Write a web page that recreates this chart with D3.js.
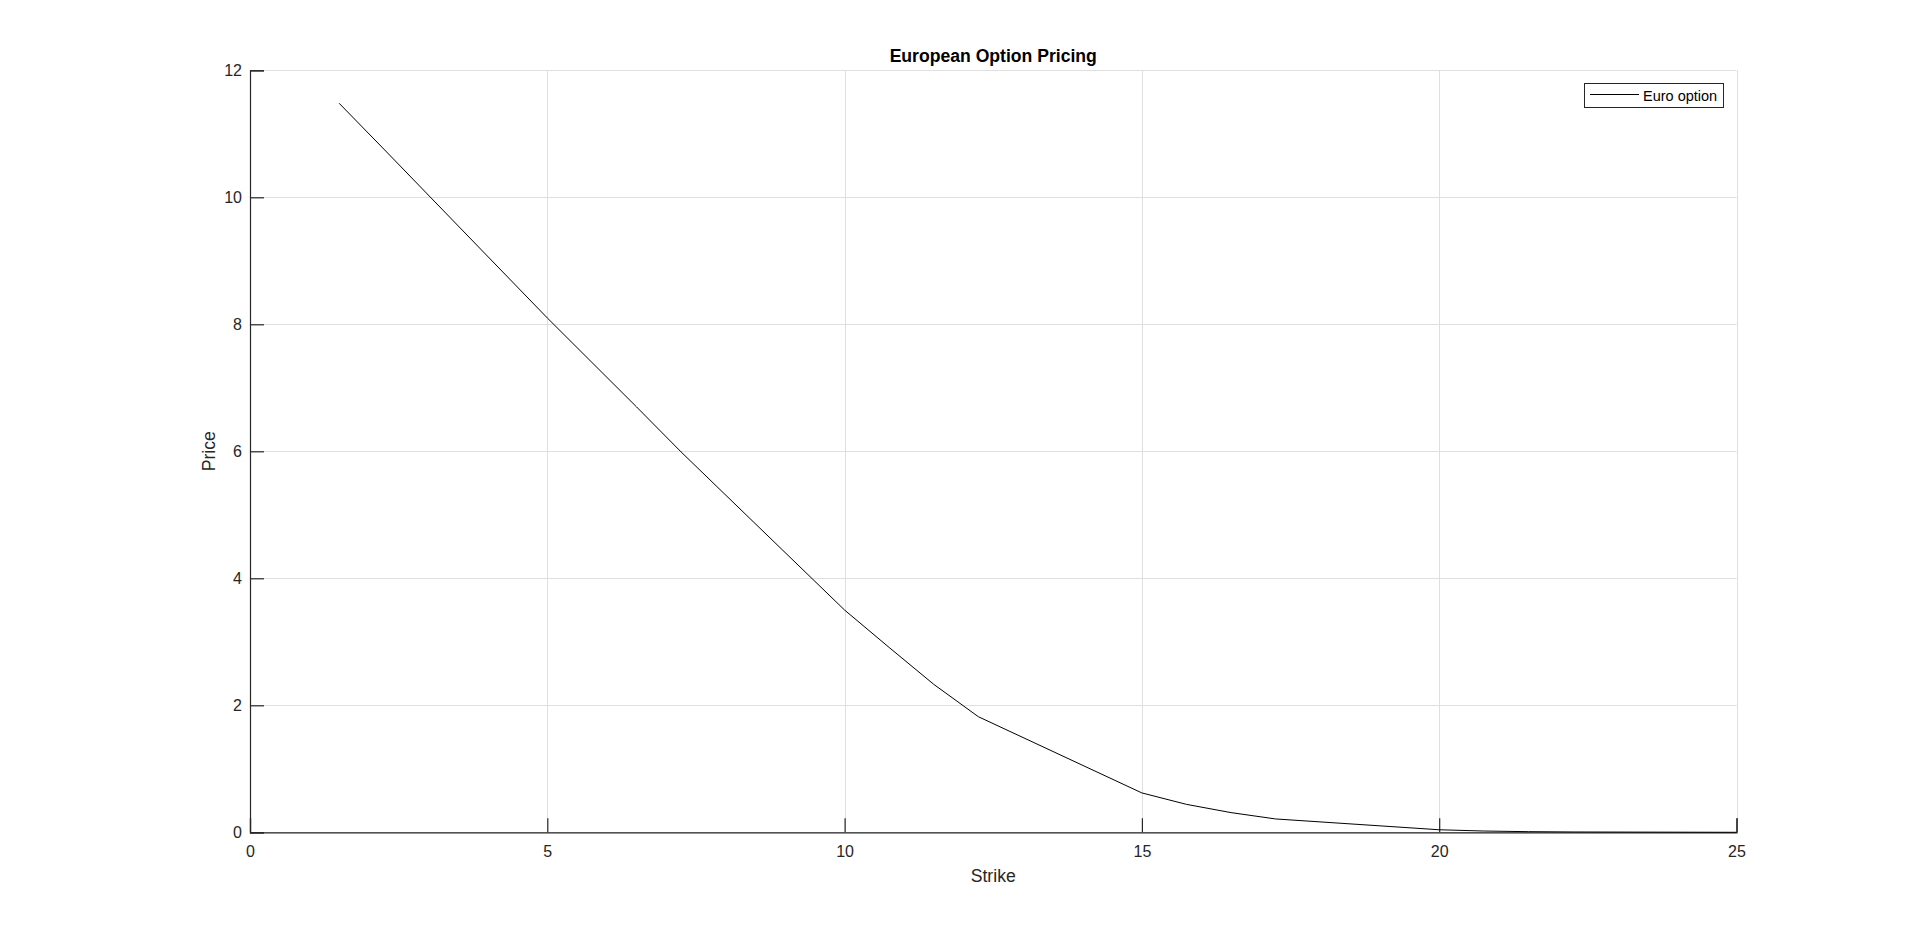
<!DOCTYPE html>
<html>
<head>
<meta charset="utf-8">
<script src="https://cdn.jsdelivr.net/npm/d3@7"></script>
<style>
  html, body { margin: 0; padding: 0; background: #ffffff; }
  svg { display: block; }
  text { font-family: "Liberation Sans", Arial, Helvetica, sans-serif; }
</style>
</head>
<body>
<svg id="chart" width="1920" height="936"></svg>
<script>
// ---- data ----
const strikes = [1.5, 2.25, 5, 5.75, 6.5, 7.25, 10, 10.75, 11.5, 12.25, 15, 15.75, 16.5, 17.25, 20, 20.75, 21.5, 22.25, 25];
const prices  = [11.48, 10.76, 8.10, 7.40, 6.70, 5.99, 3.50, 2.91, 2.33, 1.82, 0.62, 0.44, 0.31, 0.21, 0.04, 0.02, 0.01, 0.005, 0.0];
const xTicks = [0, 5, 10, 15, 20, 25];
const yTicks = [0, 2, 4, 6, 8, 10, 12];
const titleText = "European Option Pricing";
const xLabelText = "Strike";
const yLabelText = "Price";
const seriesName = "Euro option";

// ---- layout ----
const plotLeft = 250, plotRight = 1736.5, plotTop = 70.3, plotBottom = 832.3;
const axisColor = "#262626";
const gridColor = "#dfdfdf";

const svg = d3.select("#chart");
const x = d3.scaleLinear().domain([0, 25]).range([plotLeft, plotRight]);
const y = d3.scaleLinear().domain([0, 12]).range([plotBottom, plotTop]);

// grid
const grid = svg.append("g");
grid.selectAll("line.gx").data(xTicks).enter().append("line")
  .attr("x1", d => Math.round(x(d)) + 0.5).attr("x2", d => Math.round(x(d)) + 0.5)
  .attr("y1", plotTop).attr("y2", plotBottom)
  .attr("stroke", gridColor).attr("stroke-width", 1);
grid.selectAll("line.gy").data(yTicks).enter().append("line")
  .attr("x1", plotLeft).attr("x2", plotRight)
  .attr("y1", d => Math.round(y(d)) + 0.5).attr("y2", d => Math.round(y(d)) + 0.5)
  .attr("stroke", gridColor).attr("stroke-width", 1);

// x axis
const xAxis = d3.axisBottom(x).tickValues(xTicks).tickSize(-14).tickPadding(26).tickFormat(d3.format("d"));
const gx = svg.append("g").attr("transform", `translate(0,${plotBottom})`).call(xAxis);
gx.select(".domain").attr("stroke", axisColor).attr("stroke-width", 1.2);
gx.selectAll(".tick line").attr("stroke", axisColor).attr("stroke-width", 1.2);
gx.selectAll(".tick text").attr("fill", axisColor).attr("font-size", 16)
  .attr("font-family", '"Liberation Sans", Arial, sans-serif').attr("y", 24.4).attr("dy", 0);

// y axis
const yAxis = d3.axisLeft(y).tickValues(yTicks).tickSize(-14).tickPadding(22).tickFormat(d3.format("d"));
const gy = svg.append("g").attr("transform", `translate(${plotLeft},0)`).call(yAxis);
gy.select(".domain").attr("stroke", axisColor).attr("stroke-width", 1.2);
gy.selectAll(".tick line").attr("stroke", axisColor).attr("stroke-width", 1.2);
gy.selectAll(".tick text").attr("fill", axisColor).attr("font-size", 16)
  .attr("font-family", '"Liberation Sans", Arial, sans-serif').attr("x", -8).attr("dy", "0.35em");

// line
const line = d3.line().x(d => x(d[0])).y(d => y(d[1]));
svg.append("path")
  .datum(strikes.map((s, i) => [s, prices[i]]))
  .attr("d", line)
  .attr("fill", "none")
  .attr("stroke", "#000000")
  .attr("stroke-width", 1);

// title
svg.append("text")
  .attr("x", (plotLeft + plotRight) / 2).attr("y", 62)
  .attr("text-anchor", "middle")
  .attr("font-size", 17.6).attr("font-weight", "bold")
  .attr("fill", "#000000")
  .text(titleText);

// axis labels
svg.append("text")
  .attr("x", (plotLeft + plotRight) / 2).attr("y", 882)
  .attr("text-anchor", "middle")
  .attr("font-size", 17.6).attr("fill", axisColor)
  .text(xLabelText);

svg.append("text")
  .attr("transform", `translate(215,${(plotTop + plotBottom) / 2}) rotate(-90)`)
  .attr("text-anchor", "middle")
  .attr("font-size", 17.6).attr("fill", axisColor)
  .text(yLabelText);

// legend
const lg = svg.append("g");
lg.append("rect")
  .attr("x", 1584.5).attr("y", 83.5).attr("width", 139).attr("height", 24)
  .attr("fill", "#ffffff").attr("stroke", axisColor).attr("stroke-width", 1);
lg.append("line")
  .attr("x1", 1590).attr("x2", 1639).attr("y1", 94.5).attr("y2", 94.5)
  .attr("stroke", "#000000").attr("stroke-width", 1);
lg.append("text")
  .attr("x", 1643).attr("y", 101)
  .attr("font-size", 14.5).attr("fill", "#000000")
  .text(seriesName);
</script>
</body>
</html>
